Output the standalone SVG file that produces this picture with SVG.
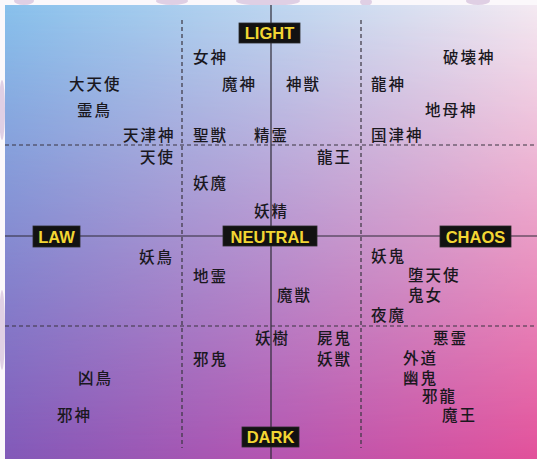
<svg xmlns="http://www.w3.org/2000/svg" width="537" height="459" viewBox="0 0 537 459">
  <defs>
    <linearGradient id="gTop" x1="0" y1="0" x2="1" y2="0">
      <stop offset="0" stop-color="#88c1ec"/>
      <stop offset="0.5" stop-color="#bcd6f0"/>
      <stop offset="1" stop-color="#f4eaf2"/>
    </linearGradient>
    <linearGradient id="gBot" x1="0" y1="0" x2="1" y2="0">
      <stop offset="0" stop-color="#8258b8"/>
      <stop offset="0.5" stop-color="#b454b0"/>
      <stop offset="1" stop-color="#e2509a"/>
    </linearGradient>
    <linearGradient id="gFade" x1="0" y1="0" x2="0" y2="1">
      <stop offset="0" stop-color="#fff" stop-opacity="0"/>
      <stop offset="1" stop-color="#fff" stop-opacity="1"/>
    </linearGradient>
    <mask id="mFade" maskUnits="userSpaceOnUse" x="0" y="0" width="537" height="459">
      <rect x="5" y="5" width="532" height="454" fill="url(#gFade)"/>
    </mask>
  </defs>
  <style>
    .jp { font-family: "Noto Sans CJK JP", "Noto Sans CJK SC", sans-serif; font-size: 15.5px; font-weight: 500; letter-spacing: 2px; fill: #1a181e; }
    .box { fill: #121212; stroke: #2a2a2a; stroke-width: 0.8; }
    .ax { font-family: "Liberation Sans", Arial, sans-serif; font-weight: bold; font-size: 16.5px; fill: #f3d633; text-anchor: middle; }
    .solid { stroke: #2e2a36; stroke-width: 1.2; fill: none; }
    .dash { stroke: #3a3540; stroke-width: 1.2; stroke-dasharray: 4 3; fill: none; }
  </style>

  <!-- page and panel background -->
  <rect x="0" y="0" width="537" height="459" fill="#fbf8fb"/>
  <g fill="#d9c6df" opacity="0.8">
    <ellipse cx="24" cy="1" rx="10" ry="4"/>
    <ellipse cx="172" cy="1" rx="16" ry="4"/>
    <ellipse cx="268" cy="1" rx="32" ry="5"/>
    <ellipse cx="366" cy="2" rx="6" ry="4"/>
    <ellipse cx="478" cy="1" rx="12" ry="4"/>
    <ellipse cx="2" cy="110" rx="3" ry="30"/>
    <ellipse cx="2" cy="330" rx="3" ry="40"/>
  </g>
  <rect x="5" y="5" width="532" height="454" fill="url(#gTop)"/>
  <rect x="5" y="5" width="532" height="454" fill="url(#gBot)" mask="url(#mFade)"/>

  <!-- connectors: axes and grid -->
  <g id="connectors">
    <line class="solid" x1="271" y1="5" x2="271" y2="459"/>
    <line class="solid" x1="5" y1="236" x2="537" y2="236"/>
    <line class="dash" x1="182" y1="20" x2="182" y2="448"/>
    <line class="dash" x1="361" y1="20" x2="361" y2="448"/>
    <line class="dash" x1="5" y1="145" x2="537" y2="145"/>
    <line class="dash" x1="5" y1="326" x2="537" y2="326"/>
  </g>

  <!-- axis labels -->
  <g id="light"><rect class="box" x="239" y="23" width="61" height="20"/><text class="ax" x="269.5" y="39">LIGHT</text></g>
  <g id="dark"><rect class="box" x="242" y="427" width="57" height="20"/><text class="ax" x="270.5" y="443">DARK</text></g>
  <g id="law"><rect class="box" x="33" y="226" width="47" height="21"/><text class="ax" x="56.5" y="242.5">LAW</text></g>
  <g id="neutral"><rect class="box" x="223" y="226" width="94" height="20"/><text class="ax" x="270" y="242.5">NEUTRAL</text></g>
  <g id="chaos"><rect class="box" x="440" y="226" width="71" height="21"/><text class="ax" x="475.5" y="242.5">CHAOS</text></g>

  <!-- races -->
  <g id="megami"><text class="jp" x="193" y="63">女神</text></g>
  <g id="hakaishin"><text class="jp" x="443" y="63">破壊神</text></g>
  <g id="daitenshi"><text class="jp" x="69" y="89.5">大天使</text></g>
  <g id="majin"><text class="jp" x="222" y="89.5">魔神</text></g>
  <g id="shinju"><text class="jp" x="286" y="89.5">神獣</text></g>
  <g id="ryujin"><text class="jp" x="371" y="89.5">龍神</text></g>
  <g id="reicho"><text class="jp" x="77" y="115.5">霊鳥</text></g>
  <g id="chibojin"><text class="jp" x="425" y="115.5">地母神</text></g>
  <g id="amatsukami"><text class="jp" x="123" y="140.5">天津神</text></g>
  <g id="seiju"><text class="jp" x="193" y="140.5">聖獣</text></g>
  <g id="seirei"><text class="jp" x="254" y="140.5">精霊</text></g>
  <g id="kunitsukami"><text class="jp" x="371" y="140.5">国津神</text></g>
  <g id="tenshi"><text class="jp" x="140" y="162.5">天使</text></g>
  <g id="ryuo"><text class="jp" x="317" y="162.5">龍王</text></g>
  <g id="yoma"><text class="jp" x="193" y="189">妖魔</text></g>
  <g id="yosei"><text class="jp" x="254" y="217">妖精</text></g>
  <g id="yocho"><text class="jp" x="139" y="262.5">妖鳥</text></g>
  <g id="yoki"><text class="jp" x="371" y="262">妖鬼</text></g>
  <g id="chirei"><text class="jp" x="193" y="281.5">地霊</text></g>
  <g id="datenshi"><text class="jp" x="408" y="280.5">堕天使</text></g>
  <g id="maju"><text class="jp" x="277" y="300.5">魔獣</text></g>
  <g id="kijo"><text class="jp" x="408" y="301">鬼女</text></g>
  <g id="yama"><text class="jp" x="371" y="320.5">夜魔</text></g>
  <g id="yoju-tree"><text class="jp" x="255" y="344">妖樹</text></g>
  <g id="shiki"><text class="jp" x="317" y="344">屍鬼</text></g>
  <g id="akuryo"><text class="jp" x="433" y="344">悪霊</text></g>
  <g id="jaki"><text class="jp" x="193" y="364.5">邪鬼</text></g>
  <g id="yoju"><text class="jp" x="317" y="364.5">妖獣</text></g>
  <g id="gedo"><text class="jp" x="403" y="363.5">外道</text></g>
  <g id="kyocho"><text class="jp" x="78" y="384">凶鳥</text></g>
  <g id="yuki"><text class="jp" x="403" y="384">幽鬼</text></g>
  <g id="jaryu"><text class="jp" x="422" y="402">邪龍</text></g>
  <g id="jashin"><text class="jp" x="57" y="421">邪神</text></g>
  <g id="mao"><text class="jp" x="442" y="420.5">魔王</text></g>
</svg>
